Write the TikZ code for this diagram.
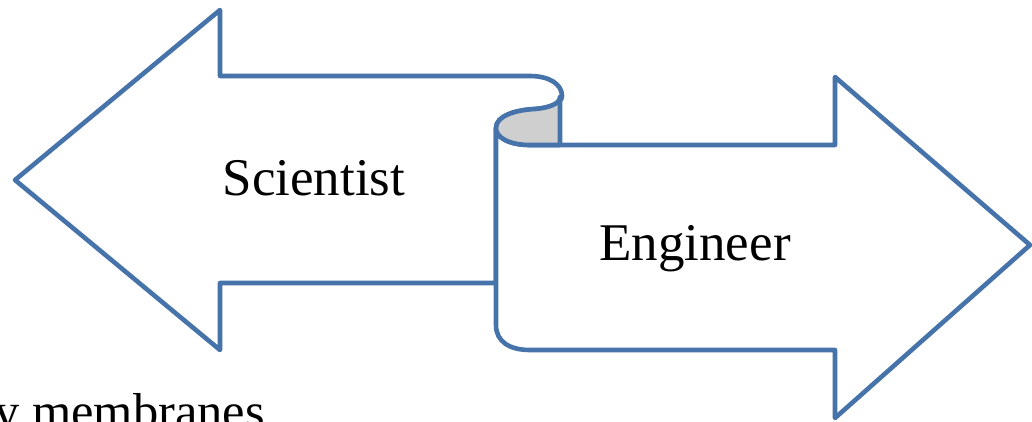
\documentclass[tikz,border=0pt]{standalone}
\usepackage{fontspec}
\setmainfont{Liberation Serif}
\definecolor{edgeblue}{RGB}{70,115,170}
\definecolor{curlgrey}{RGB}{207,207,207}
\begin{document}
\begin{tikzpicture}[x=1pt,y=-1pt,
  arrowshape/.style={draw=edgeblue,line width=4.6pt,fill=white,line join=round},
  curlshape/.style={draw=edgeblue,line width=4.6pt,fill=curlgrey,line join=round},
  label/.style={inner sep=0pt,font=\fontsize{53}{60}\selectfont}]
\useasboundingbox (0,0) rectangle (1032,421);
\clip (0,0) rectangle (1032,421);
% left arrow (Scientist)
\draw[arrowshape] (220,283) -- (220,350) -- (15,180) -- (220,10) -- (220,76) -- (530,76)
  .. controls (549,76) and (562,84) .. (562,96)
  .. controls (562,104) and (548,108) .. (535,109)
  .. controls (515,110) and (496,116) .. (496,128) -- (496,283) -- cycle;
% right arrow (Engineer)
\draw[arrowshape] (835,145) -- (835,77) -- (1030,245) -- (835,418) -- (835,350) -- (530,350)
  .. controls (510,350) and (496,342) .. (496,325) -- (496,128)
  .. controls (496,138) and (510,145) .. (530,145) -- cycle;
% curl (back of scroll)
\draw[curlshape] (496,128) .. controls (496,116) and (515,110) .. (535,109)
  .. controls (548,108) and (560,104) .. (560,97) -- (560,145) -- (530,145)
  .. controls (510,145) and (496,138) .. (496,128) -- cycle;
\node[label,anchor=base] (sci) at (314,195) {Scientist};
\node[label,anchor=base] (eng) at (695,260) {Engineer};
\node[inner sep=0pt,anchor=base west,font=\fontsize{50.5}{56}\selectfont] (mem) at (-6,428) {y membranes};
\end{tikzpicture}
\end{document}
